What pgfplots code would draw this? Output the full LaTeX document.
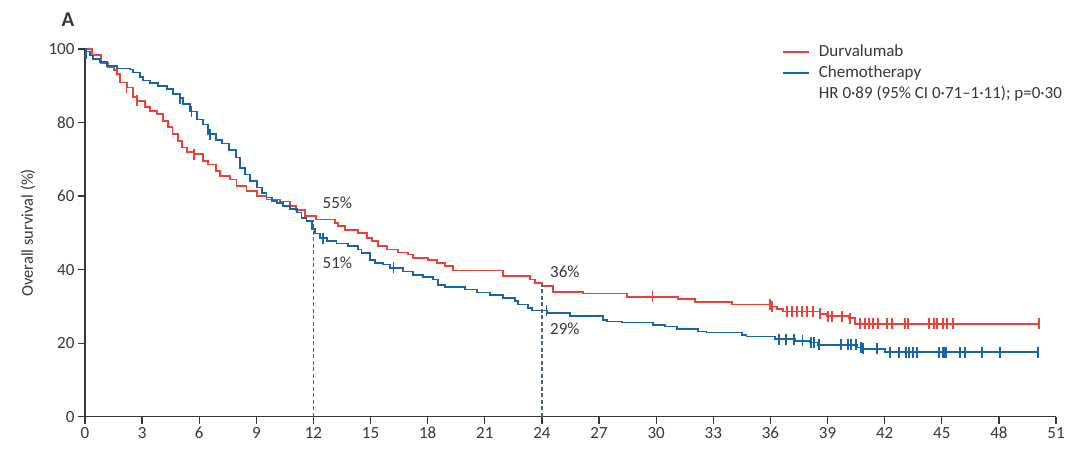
\documentclass[border=0pt]{standalone}
\usepackage{fontspec}
\setmainfont{Carlito}
\usepackage{pgfplots}
\pgfplotsset{compat=1.18}
\definecolor{durva}{RGB}{238,64,54}
\definecolor{chemo}{RGB}{21,101,170}
\definecolor{txt}{RGB}{55,55,55}
\definecolor{refline}{RGB}{80,100,118}
\begin{document}
\begin{tikzpicture}
\begin{axis}[
  width=971pt, height=367.7pt, scale only axis,
  xmin=0, xmax=51, ymin=0, ymax=100,
  axis lines*=left,
  axis line style={txt, line width=1.3pt},
  tick style={txt, line width=1.3pt},
  tick align=outside, major tick length=7pt,
  xtick={0,3,...,51}, ytick={0,20,...,100},
  /pgf/number format/assume math mode=true,
  tick label style={font=\fontsize{17}{20}\selectfont, text=txt},
  ylabel={Overall survival (\%)},
  every axis y label/.style={at={(rel axis cs:-0.0587,0.5)}, rotate=90, anchor=center,
    font=\fontsize{16.5}{19}\selectfont, text=txt},
  clip=false,
  const plot,
  legend image code/.code={\draw[#1, line width=1.7pt] (0pt,0pt) -- (26pt,0pt);},
  legend cell align=left,
  legend style={at={(rel axis cs:0.7178,1.011)}, anchor=north west, draw=none, fill=none,
    inner sep=0pt, row sep=7pt, font=\fontsize{17}{20}\selectfont, text=txt,
    nodes={inner sep=0pt, text height=11pt, text depth=3pt},
    /tikz/every odd column/.append style={column sep=9pt}},
]
% Durvalumab
\addplot[durva, line width=1.7pt, mark=none] coordinates {
(0,100) (0.37,98.4) (0.84,96.2) (1.21,95.0) (1.52,94.3) (1.68,93.2) (1.84,90.9) (2.2,89.5)
(2.52,86.9) (2.73,85.9) (3.15,84.2) (3.41,83.2) (3.78,82.3) (4.1,80.5) (4.36,78.7) (4.6,76.8)
(4.88,75.0) (5.1,73.2) (5.36,71.9) (5.72,71.4) (6.2,69.5) (6.45,68.6) (6.9,66.8) (7.09,65.4)
(7.61,64.5) (7.96,62.7) (8.49,61.4) (9.02,60.0) (9.54,59.1) (10.24,58.5) (10.77,57.3) (11.1,56.2)
(11.55,54.5) (12.13,53.6) (13.13,52.7) (13.29,51.8) (13.66,50.7) (14.34,50.0) (14.81,48.6)
(15.07,47.7) (15.39,46.4) (15.86,45.5) (16.44,44.7) (16.97,44.1) (17.23,43.2) (18.01,42.7)
(18.49,41.8) (18.91,40.9) (19.33,39.8) (21.95,38.2) (23.37,37.3) (23.63,36.4) (24.0,35.6)
(24.58,34.0) (26.16,33.5) (28.47,32.6) (31.13,32.1) (32.03,31.2) (33.98,30.5) (36.08,30.0)
(36.34,29.3) (36.66,28.6) (38.6,28.0) (38.96,27.3) (40.1,26.8) (40.44,25.3) (50.1,25.3)
};
\addlegendentry{Durvalumab}
% Chemotherapy
\addplot[chemo, line width=1.7pt, mark=none] coordinates {
(0,100) (0.05,99.3) (0.26,98.2) (0.42,97.3) (0.79,96.4) (1.16,95.4) (1.68,94.7) (2.36,94.4)
(2.52,93.6) (2.89,92.3) (3.05,91.4) (3.41,90.7) (3.83,90.0) (4.31,89.1) (4.62,87.7) (4.99,86.6)
(5.15,85.0) (5.52,83.0) (5.88,80.8) (6.2,79.5) (6.46,76.8) (6.88,75.3) (7.2,74.3) (7.56,72.5)
(7.93,70.5) (8.14,67.7) (8.4,65.9) (8.67,64.1) (9.02,62.3) (9.28,60.9) (9.54,59.6) (9.81,58.6)
(10.07,58.2) (10.41,57.3) (10.77,56.4) (11.12,55.5) (11.38,54.1) (11.64,53.2) (11.91,51.0)
(12.1,49.8) (12.36,48.6) (12.7,47.7) (13.21,47.1) (13.81,46.4) (14.34,45.5) (14.53,44.6)
(14.97,42.7) (15.23,41.8) (15.65,41.4) (16.02,40.5) (16.7,39.5) (17.23,38.6) (17.75,38.0)
(18.28,37.3) (18.54,35.9) (18.91,35.2) (19.96,34.6) (20.59,33.8) (21.27,33.2) (21.95,32.3)
(22.58,31.4) (22.74,30.5) (23.27,29.6) (23.48,28.9) (24.26,28.2) (25.47,27.3) (27.2,26.4)
(27.4,25.9) (28.19,25.6) (29.85,25.0) (30.46,24.5) (31.08,23.8) (32.21,23.2) (32.65,22.9)
(34.49,22.3) (34.75,21.8) (36.24,21.1) (37.29,20.6) (38.08,20.2) (38.5,19.6) (40.55,18.8)
(40.8,18.5) (42.02,17.6) (50.05,17.6)
};
\addlegendentry{Chemotherapy}
\addlegendimage{empty legend}
\addlegendentry{HR 0·89 (95\% CI 0·71–1·11); p=0·30}
% censor marks
\addplot[durva, only marks, mark=|, mark size=5.5pt, mark options={line width=1.3pt}, forget plot] coordinates {
(2.2,89.5) (2.73,85.9) (5.72,71.4) (29.8,32.6) (35.98,30.6) (36.08,30.0) (36.87,28.6) (37.13,28.6)
(37.4,28.6) (37.66,28.6) (37.92,28.6) (38.24,28.6) (38.6,28.0) (39.02,27.3) (39.23,27.3)
(39.76,27.3) (40.18,26.8) (40.7,25.3) (40.97,25.3) (41.18,25.3) (41.39,25.3) (41.65,25.3)
(42.12,25.3) (42.38,25.3) (43.07,25.3) (43.22,25.3) (44.33,25.3) (44.59,25.3) (44.75,25.3)
(45.06,25.3) (45.27,25.3) (45.59,25.3) (50.1,25.3)
};
\addplot[chemo, only marks, mark=|, mark size=5.5pt, mark options={line width=1.3pt}, forget plot] coordinates {
(0.05,98.9) (4.99,86.6) (5.6,83.0) (6.57,76.8) (12.5,48.6) (16.2,40.5) (24.25,28.9)
(36.45,21.1) (36.82,21.1) (37.24,21.1) (37.7,20.6) (38.13,20.2) (38.29,20.2) (38.55,19.6)
(39.71,19.6) (40.08,19.6) (40.24,19.6) (40.5,19.6) (40.76,18.8) (40.86,18.5) (41.6,18.5)
(42.28,17.6) (42.75,17.6) (43.12,17.6) (43.28,17.6) (43.49,17.6) (43.7,17.6) (44.85,17.6)
(45.06,17.6) (45.12,17.6) (45.22,17.6) (45.96,17.6) (46.22,17.6) (47.11,17.6) (48.06,17.6)
(50.05,17.6)
};
% reference lines at 12 and 24 months
\addplot[refline, line width=1.2pt, dash pattern=on 4pt off 2.5pt, forget plot, sharp plot] coordinates {(12,0) (12,53.6)};
\addplot[refline, line width=1.2pt, dash pattern=on 4pt off 2.5pt, forget plot, sharp plot] coordinates {(24,0) (24,35.9)};
\node[anchor=west, text=txt, font=\fontsize{17}{20}\selectfont] at (axis cs:12.3,58.3) {55\%};
\node[anchor=west, text=txt, font=\fontsize{17}{20}\selectfont] at (axis cs:12.3,41.9) {51\%};
\node[anchor=west, text=txt, font=\fontsize{17}{20}\selectfont] at (axis cs:24.25,39.5) {36\%};
\node[anchor=west, text=txt, font=\fontsize{17}{20}\selectfont] at (axis cs:24.25,23.9) {29\%};
\node[text=txt, font=\fontsize{21}{24}\bfseries] at (rel axis cs:-0.0175,1.079) {A};
\coordinate (bl) at (rel axis cs:-0.0875,-0.1014);
\coordinate (tr) at (rel axis cs:1.0247,1.1333);
\end{axis}
\pgfresetboundingbox
\path[use as bounding box] (bl) rectangle (tr);
\end{tikzpicture}
\end{document}
